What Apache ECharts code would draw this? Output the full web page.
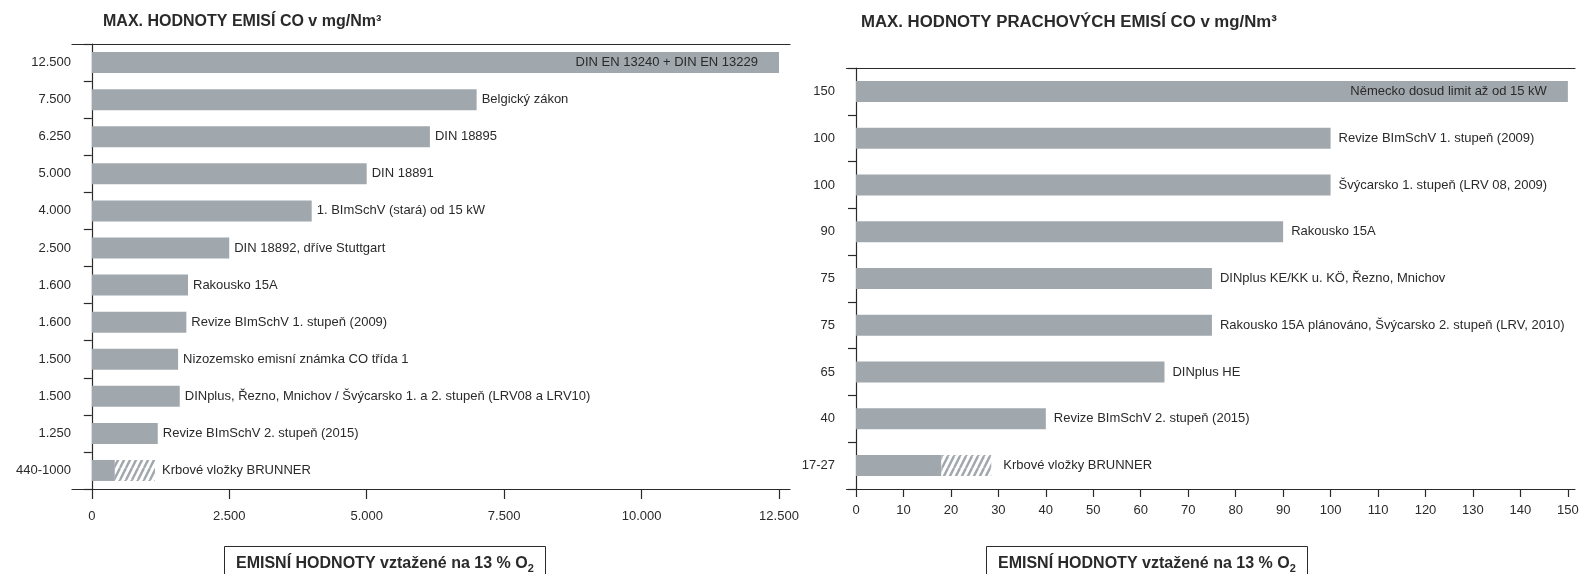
<!DOCTYPE html>
<html>
<head>
<meta charset="utf-8">
<script src="https://cdn.jsdelivr.net/npm/echarts@6/dist/echarts.min.js"></script>
<style>
html, body { margin: 0; padding: 0; background: #fff; }
#container { width: 1586px; height: 574px; }
</style>
</head>
<body>
<div id="container"></div>
<script>
// left chart: CO limits
var coNames = ['DIN EN 13240 + DIN EN 13229', 'Belgický zákon', 'DIN 18895', 'DIN 18891',
    '1. BImSchV (stará) od 15 kW', 'DIN 18892, dříve Stuttgart', 'Rakousko 15A',
    'Revize BImSchV 1. stupeň (2009)', 'Nizozemsko emisní známka CO třída 1',
    'DINplus, Řezno, Mnichov / Švýcarsko 1. a 2. stupeň (LRV08 a LRV10)',
    'Revize BImSchV 2. stupeň (2015)', 'Krbové vložky BRUNNER'];
var coTickLabels = ['12.500', '7.500', '6.250', '5.000', '4.000', '2.500', '1.600', '1.600', '1.500', '1.500', '1.250', '440-1000'];
var coValues = [12500, 7000, 6150, 5000, 4000, 2500, 1750, 1720, 1570, 1600, 1200, 420];
var coBrunnerEnd = 1150;
var coAxisValues = [0, 2500, 5000, 7500, 10000, 12500];
var coAxisLabels = ['0', '2.500', '5.000', '7.500', '10.000', '12.500'];

// right chart: dust limits
var dustNames = ['Německo dosud limit až od 15 kW', 'Revize BImSchV 1. stupeň (2009)',
    'Švýcarsko 1. stupeň (LRV 08, 2009)', 'Rakousko 15A', 'DINplus KE/KK u. KÖ, Řezno, Mnichov',
    'Rakousko 15A plánováno, Švýcarsko 2. stupeň (LRV, 2010)', 'DINplus HE',
    'Revize BImSchV 2. stupeň (2015)', 'Krbové vložky BRUNNER'];
var dustTickLabels = ['150', '100', '100', '90', '75', '75', '65', '40', '17-27'];
var dustValues = [150, 100, 100, 90, 75, 75, 65, 40, 18];
var dustBrunnerEnd = 28.5;
var dustAxisValues = [0, 10, 20, 30, 40, 50, 60, 70, 80, 90, 100, 110, 120, 130, 140, 150];

var barGray = '#a1a8ad';
var ink = '#2a2a2a';
var font = 'Liberation Sans, Arial, sans-serif';

// hatch pattern for the BRUNNER range
var hatch = document.createElement('canvas');
hatch.width = 6;
hatch.height = 12;
var hctx = hatch.getContext('2d');
hctx.fillStyle = '#fff';
hctx.fillRect(0, 0, 6, 12);
hctx.strokeStyle = barGray;
hctx.lineWidth = 2.4;
for (var k = -1; k <= 1; k++) {
    hctx.beginPath();
    hctx.moveTo(k * 6, 12);
    hctx.lineTo(k * 6 + 6, 0);
    hctx.stroke();
}

var dom = document.getElementById('container');
var myChart = echarts.init(dom, null, { renderer: 'canvas' });

function solidData(values) {
    return values.map(function (v, i) {
        if (i === 0) {
            return { value: v, label: { position: 'insideRight', distance: 21 } };
        }
        return v;
    });
}

function hatchData(values, start, end) {
    return values.map(function (v, i) {
        return i === values.length - 1 ? end - start : null;
    });
}

function axisLine() {
    return { show: true, onZero: true, lineStyle: { color: ink, width: 1.2 } };
}

function boxTitle(left) {
    return {
        text: '{a|EMISNÍ HODNOTY vztažené na 13 % O}{s|2}',
        left: left, top: 544, padding: [10, 12, 30, 12],
        borderColor: ink, borderWidth: 1,
        textStyle: {
            rich: {
                a: { fontSize: 16, fontWeight: 'bold', color: ink, fontFamily: font, lineHeight: 20 },
                s: { fontSize: 11, fontWeight: 'bold', color: ink, fontFamily: font, lineHeight: 12, verticalAlign: 'bottom' }
            }
        }
    };
}

var option = {
    textStyle: { fontFamily: font },
    title: [
        {
            text: 'MAX. HODNOTY EMISÍ CO v mg/Nm³',
            left: 103, top: 14, padding: 0,
            textStyle: { fontSize: 16, fontWeight: 'bold', color: ink, fontFamily: font }
        },
        {
            text: 'MAX. HODNOTY PRACHOVÝCH EMISÍ CO v mg/Nm³',
            left: 861, top: 14, padding: 0,
            textStyle: { fontSize: 16.8, fontWeight: 'bold', color: ink, fontFamily: font }
        },
        boxTitle(224),
        boxTitle(986)
    ],
    grid: [
        { left: 72, right: 796, top: 44, bottom: 85, containLabel: false, outerBoundsMode: 'none' },
        { left: 846.5, right: 11, top: 68, bottom: 85, containLabel: false, outerBoundsMode: 'none' }
    ],
    xAxis: [
        {
            gridIndex: 0, type: 'value', min: -360, max: 12700,
            axisLine: axisLine(),
            axisTick: { show: true, length: 10, customValues: coAxisValues, lineStyle: { color: ink, width: 1.2 } },
            axisLabel: {
                customValues: coAxisValues, margin: 21, fontSize: 13, color: ink,
                formatter: function (v) { return coAxisLabels[coAxisValues.indexOf(v)]; }
            },
            splitLine: { show: false }
        },
        {
            gridIndex: 0, type: 'value', position: 'top', min: -360, max: 12700,
            axisLine: axisLine(), axisTick: { show: false }, axisLabel: { show: false }, splitLine: { show: false }
        },
        {
            gridIndex: 1, type: 'value', min: -2, max: 151.5,
            axisLine: axisLine(),
            axisTick: { show: true, length: 8, customValues: dustAxisValues, lineStyle: { color: ink, width: 1.2 } },
            axisLabel: {
                customValues: dustAxisValues, margin: 15, fontSize: 13, color: ink
            },
            splitLine: { show: false }
        },
        {
            gridIndex: 1, type: 'value', position: 'top', min: -2, max: 151.5,
            axisLine: axisLine(), axisTick: { show: false }, axisLabel: { show: false }, splitLine: { show: false }
        }
    ],
    yAxis: [
        {
            gridIndex: 0, type: 'category', inverse: true, data: coNames,
            axisLine: axisLine(),
            axisTick: { show: true, length: 8, lineStyle: { color: ink, width: 1.2 } },
            axisLabel: {
                margin: 1, fontSize: 13, color: ink,
                formatter: function (v, i) { return coTickLabels[i]; }
            }
        },
        {
            gridIndex: 1, type: 'category', inverse: true, data: dustNames,
            axisLine: axisLine(),
            axisTick: { show: true, length: 8, lineStyle: { color: ink, width: 1.2 } },
            axisLabel: {
                margin: 11.5, fontSize: 13, color: ink,
                formatter: function (v, i) { return dustTickLabels[i]; }
            }
        }
    ],
    series: [
        {
            name: 'CO', type: 'bar', xAxisIndex: 0, yAxisIndex: 0, stack: 'co', barWidth: 21,
            itemStyle: { color: barGray },
            label: {
                show: true, position: 'right', distance: 5, fontSize: 13, color: ink,
                formatter: function (p) { return p.dataIndex === coValues.length - 1 ? '' : p.name; }
            },
            data: solidData(coValues)
        },
        {
            name: 'CO range', type: 'bar', xAxisIndex: 0, yAxisIndex: 0, stack: 'co', barWidth: 21,
            itemStyle: { color: { image: hatch, repeat: 'repeat' } },
            label: { show: true, position: 'right', distance: 7, fontSize: 13, color: ink, formatter: '{b}' },
            data: hatchData(coValues, coValues[coValues.length - 1], coBrunnerEnd)
        },
        {
            name: 'Prach', type: 'bar', xAxisIndex: 2, yAxisIndex: 1, stack: 'dust', barWidth: 21,
            itemStyle: { color: barGray },
            label: {
                show: true, position: 'right', distance: 8, fontSize: 13, color: ink,
                formatter: function (p) { return p.dataIndex === dustValues.length - 1 ? '' : p.name; }
            },
            data: solidData(dustValues)
        },
        {
            name: 'Prach range', type: 'bar', xAxisIndex: 2, yAxisIndex: 1, stack: 'dust', barWidth: 21,
            itemStyle: { color: { image: hatch, repeat: 'repeat' } },
            label: { show: true, position: 'right', distance: 12, fontSize: 13, color: ink, formatter: '{b}' },
            data: hatchData(dustValues, dustValues[dustValues.length - 1], dustBrunnerEnd)
        }
    ]
};

myChart.setOption(option);
window.addEventListener('resize', myChart.resize);
</script>
</body>
</html>
